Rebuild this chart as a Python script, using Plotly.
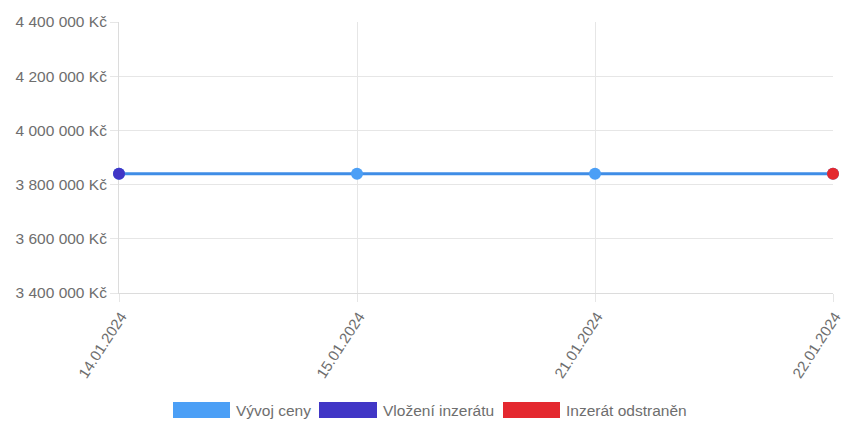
import plotly.graph_objects as go

# Price history of the listing
dates = ["14.01.2024", "15.01.2024", "21.01.2024", "22.01.2024"]
prices = [3840000, 3840000, 3840000, 3840000]

# Event points: listing inserted / listing removed
inserted_idx = 0
removed_idx = 3

# Y axis ticks
y_ticks = [3400000, 3600000, 3800000, 4000000, 4200000, 4400000]
y_tick_labels = ["3 400 000 Kč", "3 600 000 Kč", "3 800 000 Kč",
                 "4 000 000 Kč", "4 200 000 Kč", "4 400 000 Kč"]

series_names = ["Vývoj ceny", "Vložení inzerátu", "Inzerát odstraněn"]
series_colors = ["#4b9ff6", "#4136c6", "#e4282f"]
line_color = "#3f8de6"

W, H = 846, 421
L, R, T, B = 119, 13, 22, 128
plot_w = W - L - R
plot_h = H - T - B

font_family = "Liberation Sans, Arial, sans-serif"
font_size = 15.5
text_color = "#6e6e6e"
grid_color = "#e6e6e6"

fig = go.Figure()

fig.add_trace(go.Scatter(
    x=dates, y=prices, mode="lines+markers", name=series_names[0],
    line=dict(color=line_color, width=3),
    marker=dict(color=series_colors[0], size=12),
    cliponaxis=False, showlegend=False,
))
fig.add_trace(go.Scatter(
    x=[dates[inserted_idx]], y=[prices[inserted_idx]], mode="markers",
    name=series_names[1], marker=dict(color=series_colors[1], size=12),
    cliponaxis=False, showlegend=False,
))
fig.add_trace(go.Scatter(
    x=[dates[removed_idx]], y=[prices[removed_idx]], mode="markers",
    name=series_names[2], marker=dict(color=series_colors[2], size=12),
    cliponaxis=False, showlegend=False,
))


def px_x(px):
    return (px - L) / plot_w


def px_y(py):
    return (H - B - py) / plot_h


# Legend drawn as wide colour boxes followed by labels
legend_items = [
    (173, 230, 236),
    (319, 377, 383),
    (503, 560, 566),
]
shapes = []
annotations = []
for (x0, x1, tx), name, color in zip(legend_items, series_names, series_colors):
    shapes.append(dict(
        type="rect", xref="paper", yref="paper",
        x0=px_x(x0), x1=px_x(x1), y0=px_y(418), y1=px_y(402),
        fillcolor=color, line=dict(width=0),
    ))
    annotations.append(dict(
        xref="paper", yref="paper", x=px_x(tx), y=px_y(410),
        text=name, showarrow=False, xanchor="left", yanchor="middle",
        xshift=-2,
        font=dict(family=font_family, size=font_size, color=text_color),
    ))

fig.update_layout(
    width=W, height=H,
    margin=dict(l=L, r=R, t=T, b=B, autoexpand=False),
    paper_bgcolor="white", plot_bgcolor="white",
    font=dict(family=font_family, size=font_size, color=text_color),
    showlegend=False,
    shapes=shapes,
    annotations=annotations,
    xaxis=dict(
        type="category", range=[0, len(dates) - 1],
        showgrid=True, gridcolor=grid_color, gridwidth=1,
        ticks="outside", ticklen=8, tickcolor=grid_color,
        tickangle=-57, ticklabelshift=2,
        tickfont=dict(size=15, color=text_color),
        showline=True, linecolor="#dcdcdc", linewidth=1,
        zeroline=False, automargin=False, layer="below traces",
    ),
    yaxis=dict(
        range=[y_ticks[0], y_ticks[-1]],
        tickvals=y_ticks, ticktext=y_tick_labels,
        showgrid=True, gridcolor=grid_color, gridwidth=1,
        ticks="outside", ticklen=8, tickcolor=grid_color,
        tickfont=dict(size=font_size, color=text_color),
        showline=True, linecolor="#dcdcdc", linewidth=1,
        zeroline=False, automargin=False, layer="below traces",
    ),
)

fig.write_html("out.html")
